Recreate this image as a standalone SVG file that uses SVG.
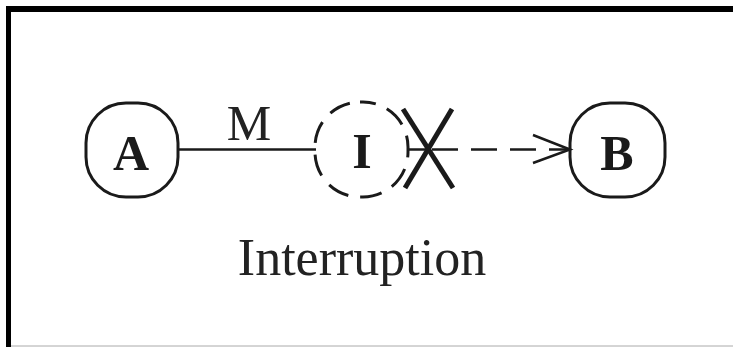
<svg xmlns="http://www.w3.org/2000/svg" width="733" height="347" viewBox="0 0 733 347">
<style>
.node{fill:none;stroke:#1a1a1a;stroke-width:3}
.dash{fill:none;stroke:#1a1a1a;stroke-width:3;stroke-dasharray:22 12}
.lbl{font-family:"Liberation Serif","Times New Roman",serif;font-weight:bold;font-size:50px;fill:#1a1a1a;text-anchor:middle}
.txt{font-family:"Liberation Serif","Times New Roman",serif;fill:#222;text-anchor:middle}
.ln{fill:none;stroke:#1a1a1a;stroke-width:2.5}
</style>
<rect x="0" y="0" width="733" height="347" fill="#fff"/>
<g id="frame">
<line x1="6" y1="9" x2="733" y2="9" stroke="#000" stroke-width="6"/>
<line x1="8.5" y1="6" x2="8.5" y2="347" stroke="#000" stroke-width="5"/>
<line x1="11" y1="346" x2="733" y2="346" stroke="#aaa" stroke-width="1"/>
</g>
<g id="connectors">
<line class="ln" x1="178" y1="149.5" x2="316" y2="149.5"/>
<line class="ln" x1="408" y1="149.5" x2="428" y2="149.5"/>
<line class="ln" x1="428" y1="149.5" x2="569" y2="149.5" stroke-dasharray="26 13" stroke-dashoffset="-4"/>
<polyline class="ln" points="533,135 570,149.5 533,163"/>
<text class="txt" x="249" y="140" font-size="50">M</text>
<g id="cross">
<line x1="403" y1="109" x2="453" y2="188" stroke="#1a1a1a" stroke-width="5"/>
<line x1="452" y1="109" x2="405" y2="188" stroke="#1a1a1a" stroke-width="5"/>
</g>
</g>
<g id="A">
<rect class="node" x="86" y="103" width="92" height="94" rx="40"/>
<text class="lbl" x="131" y="170">A</text>
</g>
<g id="I">
<rect class="dash" x="315" y="102" width="93" height="95" rx="45" stroke-dashoffset="6"/>
<text class="lbl" x="362" y="168">I</text>
</g>
<g id="B">
<rect class="node" x="570" y="103" width="95" height="94" rx="40"/>
<text class="lbl" x="617" y="170">B</text>
</g>
<text class="txt" x="362" y="275" font-size="52">Interruption</text>
</svg>
